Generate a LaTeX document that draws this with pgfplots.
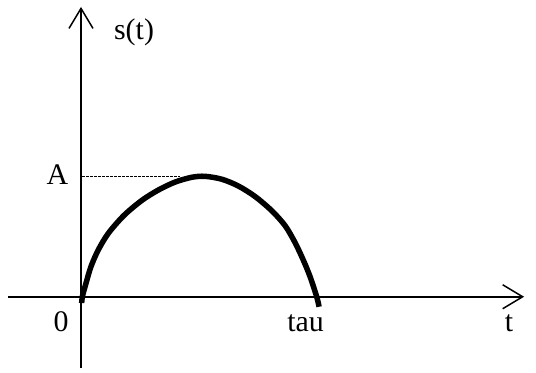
\documentclass[border=0pt]{standalone}
\usepackage{fontspec}
\setmainfont{Liberation Serif}
\usepackage{pgfplots}
\pgfplotsset{compat=1.18}
\usetikzlibrary{arrows.meta}
\tikzset{lbl/.style={anchor=base,inner sep=0pt,font=\fontsize{30}{32}\selectfont}}

\begin{document}
\begin{tikzpicture}[x=1bp,y=1bp]
\begin{axis}[scale only axis,width=516bp,height=361bp,
  axis lines=middle,enlargelimits=false,clip=false,
  xmin=-0.3097,xmax=1.880,ymin=-0.592,ymax=2.406,
  xtick=\empty,ytick=\empty,
  axis line style={line width=1.5bp,-{Straight Barb[length=20bp,width=24bp,line width=1.5bp]}}]
% dotted guide at the amplitude
\addplot[black,line width=1.6bp,dash pattern=on 2.5bp off 1.5bp] coordinates {(0.005,1)(0.42,1)};
% pulse s(t) (tau = 1, A = 1)
\addplot[black,line width=5.5bp,smooth,tension=0.5,line cap=butt] coordinates {
  (0.003,-0.052)(0.0055,0)(0.021,0.111)(0.042,0.249)(0.073,0.388)(0.116,0.527)
  (0.182,0.675)(0.258,0.800)(0.328,0.886)(0.399,0.952)(0.470,0.992)(0.526,1.0)
  (0.597,0.976)(0.667,0.920)(0.738,0.833)(0.809,0.715)(0.866,0.590)(0.908,0.450)
  (0.943,0.305)(0.972,0.166)(1.0,0)(1.010,-0.083)};
\node[lbl] at (axis cs:0.225,2.132) {s(t)};
\node[lbl] at (axis cs:-0.0997,0.928) {A};
\node[lbl] at (axis cs:-0.0849,-0.291) {0};
\node[lbl] at (axis cs:0.953,-0.291) {tau};
\node[lbl] at (axis cs:1.816,-0.291) {t};
\coordinate (bl) at (axis cs:-0.3437,-0.6254);
\coordinate (tr) at (axis cs:1.9304,2.464);
\end{axis}
\pgfresetboundingbox
\path[use as bounding box] (bl) rectangle (tr);
\end{tikzpicture}
\end{document}
